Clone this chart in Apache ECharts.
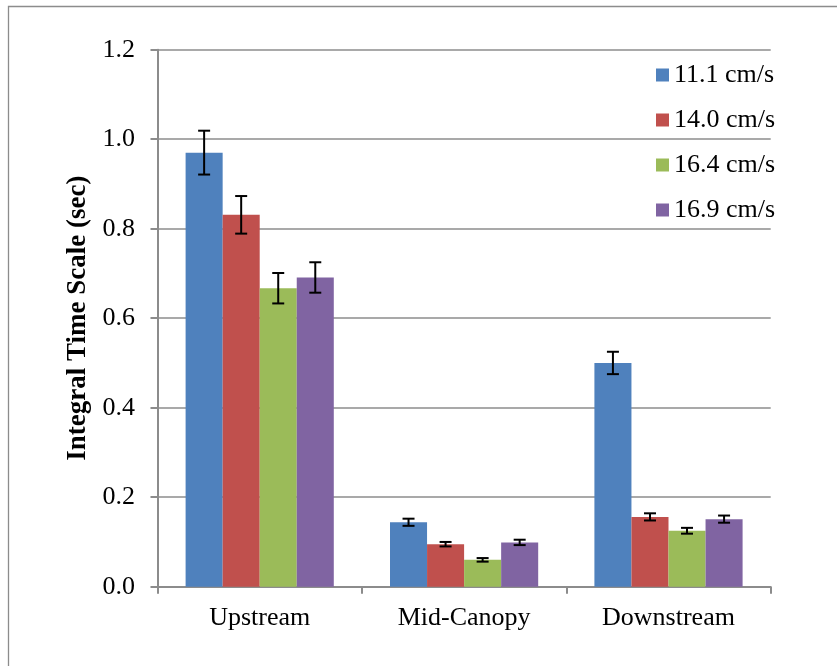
<!DOCTYPE html>
<html>
<head>
<meta charset="utf-8">
<script src="https://cdn.jsdelivr.net/npm/echarts@6/dist/echarts.min.js"></script>
<style>
html,body{margin:0;padding:0;background:#fff;}
#chart{width:837px;height:666px;}
</style>
</head>
<body>
<div id="chart"></div>
<script>
var categories = ['Upstream', 'Mid-Canopy', 'Downstream'];
var seriesNames = ['11.1 cm/s', '14.0 cm/s', '16.4 cm/s', '16.9 cm/s'];
var v111 = [0.970, 0.144, 0.500];
var v140 = [0.831, 0.095, 0.156];
var v164 = [0.667, 0.060, 0.125];
var v169 = [0.691, 0.099, 0.151];
var e111 = [0.049, 0.008, 0.025];
var e140 = [0.042, 0.005, 0.008];
var e164 = [0.034, 0.004, 0.0065];
var e169 = [0.034, 0.006, 0.008];
var yTicks = [0.0, 0.2, 0.4, 0.6, 0.8, 1.0, 1.2];
var colors = ['#4F81BD', '#C0504D', '#9BBB59', '#8064A2'];

var values = [v111, v140, v164, v169];
var errors = [e111, e140, e164, e169];
var FONT = '"Liberation Serif", "Times New Roman", serif';
var GRAY = '#8C8C8C';
var CAT_GAP = 0.275;
var nSeries = values.length;

var chart = echarts.init(document.getElementById('chart'));

var series = [];
values.forEach(function (vals, i) {
  series.push({
    name: seriesNames[i],
    type: 'bar',
    data: vals,
    barGap: '0%',
    barCategoryGap: (CAT_GAP * 100) + '%',
    itemStyle: { color: colors[i] },
    emphasis: { disabled: true }
  });
});
values.forEach(function (vals, i) {
  var errData = vals.map(function (v, k) { return [k, v - errors[i][k], v + errors[i][k]]; });
  series.push({
    type: 'custom',
    name: 'err' + i,
    data: errData,
    z: 10,
    silent: true,
    encode: { x: 0, y: [1, 2] },
    renderItem: function (params, api) {
      var k = api.value(0);
      var lo = api.coord([k, api.value(1)]);
      var hi = api.coord([k, api.value(2)]);
      var catW = api.size([1, 0])[0];
      var groupW = catW * (1 - CAT_GAP);
      var bw = groupW / nSeries;
      var x = lo[0] - groupW / 2 + (i + 0.5) * bw;
      var half = 6;
      var st = { stroke: '#000', lineWidth: 2, fill: null };
      return {
        type: 'group',
        children: [
          { type: 'line', shape: { x1: x, y1: lo[1], x2: x, y2: hi[1] }, style: st },
          { type: 'line', shape: { x1: x - half, y1: lo[1], x2: x + half, y2: lo[1] }, style: st },
          { type: 'line', shape: { x1: x - half, y1: hi[1], x2: x + half, y2: hi[1] }, style: st }
        ]
      };
    }
  });
});

chart.setOption({
  animation: false,
  backgroundColor: '#fff',
  textStyle: { fontFamily: FONT },
  graphic: [{
    type: 'rect',
    shape: { x: 8.5, y: 6.5, width: 1000, height: 1000 },
    style: { fill: null, stroke: GRAY, lineWidth: 1.3 },
    z: -10
  }],
  grid: { left: 157.5, right: 66.3, top: 49.7, bottom: 79.3, containLabel: false },
  legend: {
    orient: 'vertical',
    left: 651,
    top: 57,
    itemWidth: 13,
    itemHeight: 13,
    itemGap: 19,
    icon: 'rect',
    data: seriesNames,
    textStyle: { fontFamily: FONT, fontSize: 26, color: '#000', lineHeight: 26 }
  },
  xAxis: {
    type: 'category',
    data: categories,
    axisLine: { lineStyle: { color: GRAY, width: 2 } },
    axisTick: { show: true, length: 7, lineStyle: { color: GRAY, width: 2 } },
    axisLabel: { fontFamily: FONT, fontSize: 26, color: '#000', margin: 18 }
  },
  yAxis: {
    type: 'value',
    min: yTicks[0],
    max: yTicks[yTicks.length - 1],
    interval: 0.2,
    name: 'Integral Time Scale (sec)',
    nameLocation: 'middle',
    nameGap: 63,
    nameRotate: 90,
    nameTextStyle: { fontFamily: FONT, fontSize: 27, fontWeight: 'bold', color: '#000' },
    axisLine: { show: true, lineStyle: { color: GRAY, width: 2 } },
    axisTick: { show: true, length: 7, lineStyle: { color: GRAY, width: 2 } },
    splitLine: { show: true, lineStyle: { color: GRAY, width: 1.5 } },
    axisLabel: {
      fontFamily: FONT, fontSize: 26, color: '#000', margin: 22.5,
      formatter: function (v) { return v.toFixed(1); }
    }
  },
  series: series
});
</script>
</body>
</html>
